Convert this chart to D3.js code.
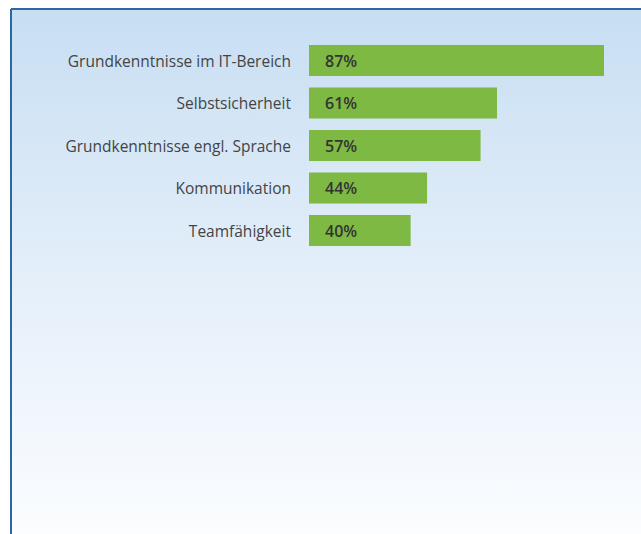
<!DOCTYPE html>
<html lang="de">
<head>
  <meta charset="UTF-8">
  <title>Kompetenzen</title>
  <script src="https://cdnjs.cloudflare.com/ajax/libs/d3/7.8.5/d3.min.js"></script>
  <style>
    html, body { margin: 0; padding: 0; background: #fff; }
  </style>
</head>
<body>
  <div id="chart"></div>
  <script>
    // data
    var categories = ["Grundkenntnisse im IT-Bereich", "Selbstsicherheit", "Grundkenntnisse engl. Sprache", "Kommunikation", "Teamfähigkeit"]
    var values = [87, 61, 57, 44, 40]

    var width = 641, height = 534

    var svg = d3.select("#chart")
      .append("svg")
      .attr("width", width)
      .attr("height", height)

    var grad = svg.append("defs").append("linearGradient")
      .attr("id", "bg")
      .attr("x1", 0).attr("y1", 0).attr("x2", 0).attr("y2", 1)
    grad.append("stop").attr("offset", "0%").attr("stop-color", "#c7def3")
    grad.append("stop").attr("offset", "55%").attr("stop-color", "#e6f0fa")
    grad.append("stop").attr("offset", "100%").attr("stop-color", "#fbfdff")

    // panel background + border (top and left only)
    svg.append("rect")
      .attr("x", 11).attr("y", 9)
      .attr("width", width - 11).attr("height", height - 9)
      .style("fill", "url(#bg)")
    svg.append("line")
      .attr("x1", 11).attr("y1", 9).attr("x2", width).attr("y2", 9)
      .style("stroke", "#2a67a3").style("stroke-width", 2)
    svg.append("line")
      .attr("x1", 11).attr("y1", 9).attr("x2", 11).attr("y2", height)
      .style("stroke", "#2a67a3").style("stroke-width", 2)

    // scales: bars start from a baseline around 15%
    var x = d3.scaleLinear()
      .domain([15.3, 87])
      .range([309, 604])

    var step = 42.5, pad = 0.27
    var y = d3.scaleBand()
      .domain(categories)
      .range([45, 45 + step * (categories.length - pad)])
      .paddingInner(pad)
      .paddingOuter(0)

    var rows = svg.selectAll("g.row")
      .data(categories)
      .enter().append("g")
      .attr("class", "row")

    rows.append("rect")
      .attr("x", x.range()[0])
      .attr("y", d => y(d))
      .attr("width", (d, i) => x(values[i]) - x.range()[0])
      .attr("height", y.bandwidth())
      .style("fill", "#7db943")

    rows.append("text")
      .attr("x", 291)
      .attr("y", d => y(d) + y.bandwidth() / 2 + 6)
      .attr("text-anchor", "end")
      .style("font-family", "'Open Sans', sans-serif")
      .style("font-size", "15.5px")
      .style("fill", "#444")
      .text(d => d)

    rows.append("text")
      .attr("x", x.range()[0] + 16)
      .attr("y", d => y(d) + y.bandwidth() / 2 + 6)
      .style("font-family", "'Open Sans', sans-serif")
      .style("font-size", "16px")
      .style("font-weight", 600)
      .style("fill", "#333")
      .text((d, i) => values[i] + "%")
  </script>
</body>
</html>
